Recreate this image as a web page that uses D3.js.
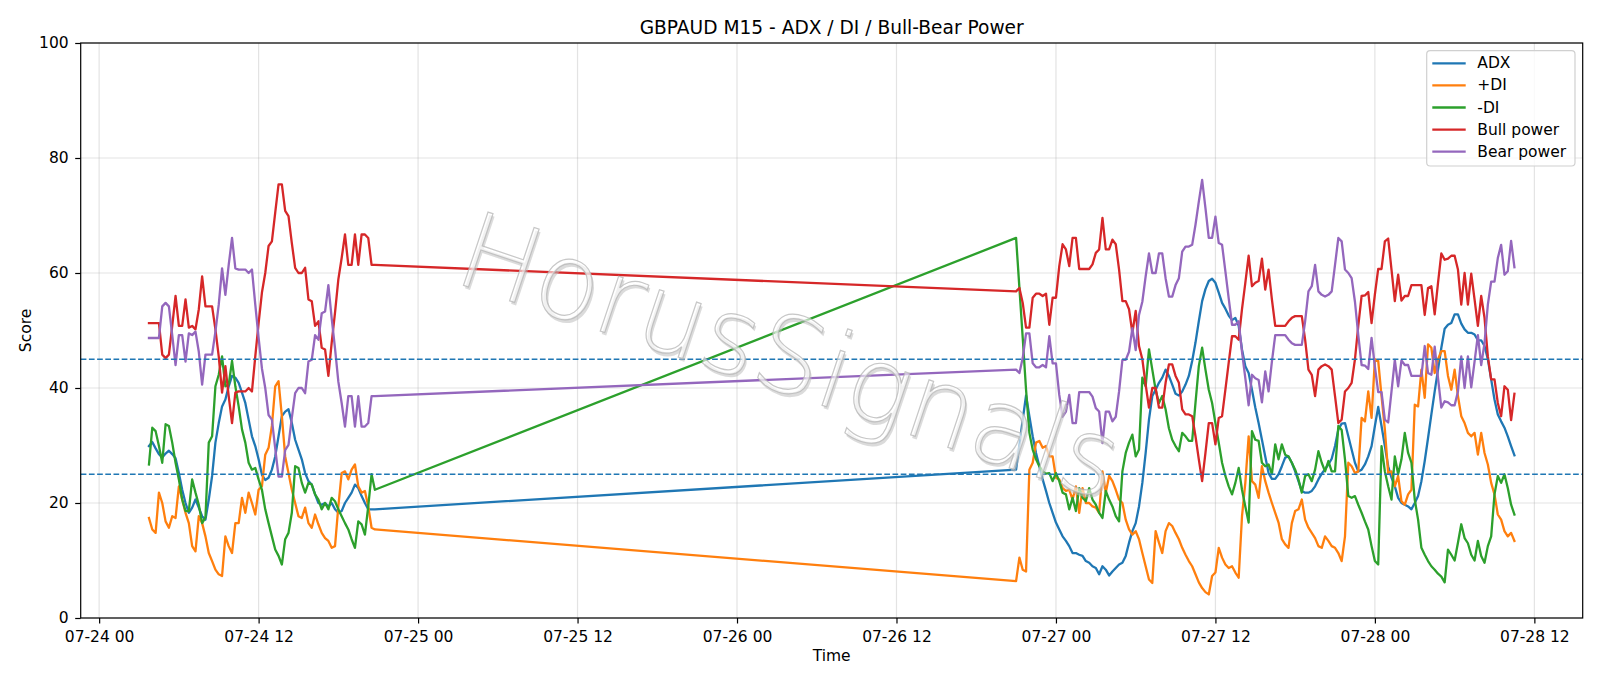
<!DOCTYPE html>
<html><head><meta charset="utf-8">
<script src="https://cdn.jsdelivr.net/npm/d3@7/dist/d3.min.js"></script>
<style>body{margin:0;background:#fff}svg{display:block;font-family:"DejaVu Sans",sans-serif}</style>
</head><body>
<svg id="chart" width="1600" height="686"></svg>
<script>
// ---------------- data ----------------
const titleText = "GBPAUD M15 - ADX / DI / Bull-Bear Power";
const watermarkText = "HorusSignals";
const sessions = [
  {start: "2020-07-24T03:45:00Z", bars: 69},
  {start: "2020-07-26T21:00:00Z", bars: 151}
];
const adx = [
 29.9,30.6,29.5,28.5,27.9,28.6,29.1,28.5,27.8,25.2,22.3,20.0,18.3,19.2,20.6,19.2,17.7,17.1,20.6,24.7,
 30.5,33.9,36.8,38.0,40.3,42.1,41.8,40.9,39.2,37.4,34.5,31.6,29.9,27.6,24.9,24.0,24.4,25.8,28.1,31.6,
 35.1,35.9,36.3,33.9,31.0,29.3,27.6,25.2,23.8,23.2,21.5,20.0,19.7,20.0,19.4,20.0,18.9,18.3,18.6,20.0,
 20.9,21.8,23.2,22.6,21.2,20.0,18.9,18.9,18.9,
 25.8,30.1,34.5,38.7,35.1,31.6,28.7,26.4,24.1,22.1,20.0,18.3,16.6,15.4,14.2,13.4,12.5,11.3,11.3,11.0,
 10.8,9.9,9.6,9.0,8.7,7.6,9.0,8.4,7.4,8.1,8.7,9.3,9.6,10.8,13.1,15.1,16.5,19.4,23.5,28.7,
 34.5,38.6,39.7,40.9,41.8,43.2,42.1,40.6,39.0,38.7,39.4,40.6,42.1,44.7,47.9,51.6,55.1,57.2,58.6,59.0,
 58.3,56.6,54.8,53.8,52.6,51.8,52.2,50.8,46.7,43.8,42.6,39.7,36.6,33.9,31.0,28.1,25.2,24.2,24.2,25.0,
 26.4,27.9,28.1,27.0,25.5,23.8,22.1,21.8,21.8,22.1,22.9,24.1,25.1,25.9,26.7,27.7,29.9,32.8,33.8,33.9,
 31.6,29.3,27.0,25.5,25.8,26.7,28.1,29.9,33.4,36.7,33.4,29.9,26.4,24.4,22.9,20.9,20.0,19.7,19.4,18.9,
 20.0,21.2,23.8,27.3,31.3,35.4,39.4,43.2,47.0,50.3,51.0,51.3,52.8,52.8,51.2,50.2,49.6,49.6,49.3,48.3,
 48.3,47.3,45.0,41.5,38.0,35.4,34.2,33.1,31.6,29.9,28.3
];
const plusDI = [
 17.4,15.4,14.8,21.8,20.0,16.8,15.7,17.7,17.4,22.9,20.6,18.3,16.5,12.5,11.6,17.7,16.5,14.2,11.3,9.9,
 8.4,7.6,7.3,14.2,12.5,11.3,16.5,16.5,20.9,18.3,21.8,20.0,18.0,22.3,22.9,28.4,29.6,33.4,40.3,41.2,
 35.1,28.1,25.2,22.3,20.0,17.7,17.4,19.2,16.5,15.7,18.0,16.3,14.8,13.9,13.4,12.2,12.5,19.4,25.2,25.5,
 24.1,25.8,26.7,22.9,21.8,22.1,19.4,15.7,15.4,
 6.4,10.5,8.4,8.1,25.8,27.0,30.5,30.8,29.6,29.9,28.1,28.1,24.4,24.1,22.6,22.1,22.3,20.6,22.9,18.3,
 22.6,20.0,20.0,19.4,19.2,18.3,25.5,21.8,24.7,23.8,22.3,20.6,20.0,17.1,15.4,14.5,15.1,13.7,11.3,9.0,
 6.7,6.1,15.1,13.1,11.3,15.1,16.5,16.0,14.8,13.7,12.2,11.0,9.9,9.0,7.6,6.2,5.2,4.5,4.1,7.3,
 7.9,12.2,10.5,9.3,8.7,9.0,7.9,7.0,17.7,23.5,31.6,23.8,23.2,20.9,26.4,23.8,21.8,20.0,18.3,16.6,
 13.7,12.8,12.2,16.5,18.6,18.9,20.6,17.1,15.7,14.8,13.9,12.5,12.2,14.2,13.4,12.5,12.2,11.3,9.9,14.2,
 27.0,26.4,25.2,25.5,34.8,34.2,39.4,34.8,45.0,44.7,38.6,32.8,25.2,25.5,22.9,24.7,20.3,19.7,21.5,22.3,
 37.1,36.8,43.2,38.3,47.6,47.0,42.6,45.0,46.4,46.4,42.1,39.7,43.2,38.6,35.1,33.9,32.2,31.6,32.2,28.4,
 32.2,28.7,26.7,23.5,21.5,18.0,17.1,15.1,14.2,14.8,13.4
];
const minusDI = [
 26.7,33.1,32.5,29.9,27.0,33.7,33.4,30.5,27.0,24.1,20.6,18.6,18.6,24.1,21.8,19.7,16.5,17.5,30.5,31.6,
 40.3,42.3,45.5,40.3,40.6,44.7,40.3,36.8,32.8,30.5,27.0,25.8,26.1,24.1,22.3,18.9,16.5,14.2,11.9,10.8,
 9.3,13.7,14.8,18.3,26.4,26.1,23.5,21.8,23.5,23.2,21.5,20.6,18.9,20.0,18.9,20.9,20.3,18.9,17.7,16.5,
 15.4,13.7,12.2,16.8,16.3,14.5,19.4,25.0,22.3,
 66.1,57.4,48.7,39.7,32.2,29.3,27.6,26.4,25.5,25.1,25.2,23.8,25.2,23.8,21.8,21.5,18.9,20.9,18.6,22.6,
 20.9,20.3,22.6,20.6,19.7,18.3,17.4,22.1,20.6,19.4,17.7,16.8,25.5,28.7,30.5,31.9,28.1,29.3,41.8,40.3,
 46.7,43.2,39.7,37.4,38.6,36.3,33.0,31.0,29.9,29.0,32.2,31.6,30.8,30.8,37.4,43.8,47.0,43.2,39.7,37.4,
 33.9,30.5,27.0,24.7,22.9,21.5,23.5,26.1,22.3,19.4,16.6,32.5,31.0,30.8,27.0,26.4,26.7,25.0,30.2,27.6,
 30.2,28.4,28.1,27.0,25.8,24.1,21.8,24.7,25.0,23.8,25.8,29.0,27.0,25.5,27.3,25.5,25.5,33.4,32.7,27.6,
 21.2,20.9,21.2,19.7,18.3,16.8,15.4,12.5,9.9,9.3,29.9,25.5,22.9,20.6,28.1,25.0,27.6,32.2,28.7,27.0,
 20.6,17.1,12.2,11.0,9.9,9.0,8.4,7.7,7.2,6.2,11.9,11.0,10.0,13.1,16.3,13.9,13.0,11.0,10.0,13.4,
 10.8,9.6,12.5,14.2,21.5,24.7,23.5,25.0,22.6,19.7,18.0
];
const bullPower = [
 51.3,51.3,51.3,51.3,45.8,45.2,45.8,50.8,56.0,50.8,50.8,55.4,50.5,50.8,50.2,53.7,59.4,54.2,54.2,54.2,
 50.2,45.5,39.2,43.8,38.6,33.9,39.2,39.4,39.4,39.4,40.0,39.4,45.5,51.3,56.6,60.0,64.7,65.5,70.5,75.4,
 75.4,70.8,69.9,65.2,60.9,60.0,60.0,60.9,55.4,55.1,50.8,51.6,47.0,46.7,42.1,47.9,53.1,58.9,62.6,66.7,
 61.4,61.4,66.7,61.4,66.7,66.7,66.1,61.4,61.4,
 56.8,57.4,54.8,50.5,50.5,55.7,56.4,56.4,56.0,56.4,51.0,55.7,55.7,61.2,65.0,64.1,61.2,66.1,66.1,60.7,
 60.7,60.7,60.7,61.5,63.5,64.1,69.6,64.1,64.1,65.8,65.0,60.6,55.1,55.1,53.7,49.6,53.4,47.3,45.0,40.6,
 36.6,40.0,40.0,36.6,36.6,40.9,44.1,44.1,42.1,40.9,36.3,35.4,35.4,35.1,31.6,27.6,23.8,28.7,33.9,33.9,
 30.2,34.8,35.1,39.7,44.4,49.0,49.0,48.4,53.7,58.3,63.0,57.7,58.3,58.6,62.5,57.1,60.6,55.4,50.8,50.8,
 50.8,50.8,51.6,52.2,52.5,52.5,52.5,48.4,43.2,42.3,38.6,43.2,43.8,44.1,43.8,43.2,38.6,33.9,34.5,39.4,
 40.0,40.9,45.0,50.8,56.0,56.1,56.7,51.3,56.3,60.7,60.7,65.5,66.0,60.6,55.1,59.7,55.2,56.0,56.0,57.9,
 57.9,57.9,57.9,52.7,57.4,57.7,52.8,58.3,63.4,62.3,62.5,63.0,63.0,60.6,54.5,60.0,54.5,59.9,55.4,50.8,
 56.0,52.2,45.5,41.5,41.5,37.4,35.1,40.3,39.7,34.4,39.0
];
const bearPower = [
 48.7,48.7,48.7,48.7,54.2,54.8,54.2,49.2,44.0,49.2,49.2,44.6,49.5,49.2,49.8,46.3,40.6,45.8,45.8,45.8,
 49.8,54.5,60.8,56.2,61.4,66.1,60.8,60.6,60.6,60.6,60.0,60.6,54.5,48.7,43.4,40.0,35.3,34.5,29.5,24.6,
 24.6,29.2,30.1,34.8,39.1,40.0,40.0,39.1,44.6,44.9,49.2,48.4,53.0,53.3,57.9,52.1,46.9,41.1,37.4,33.3,
 38.6,38.6,33.3,38.6,33.3,33.3,33.9,38.6,38.6,
 43.2,42.6,45.2,49.5,49.5,44.3,43.6,43.6,44.0,43.6,49.0,44.3,44.3,38.8,35.0,35.9,38.8,33.9,33.9,39.3,
 39.3,39.3,39.3,38.5,36.5,35.9,30.4,35.9,35.9,34.2,35.0,39.4,44.9,44.9,46.3,50.4,46.6,52.7,55.0,59.4,
 63.4,60.0,60.0,63.4,63.4,59.1,55.9,55.9,57.9,59.1,63.7,64.6,64.6,64.9,68.4,72.4,76.2,71.3,66.1,66.1,
 69.8,65.2,64.9,60.3,55.6,51.0,51.0,51.6,46.3,41.7,37.0,42.3,41.7,41.4,37.5,42.9,39.4,44.6,49.2,49.2,
 49.2,49.2,48.4,47.8,47.5,47.5,47.5,51.6,56.8,57.7,61.4,56.8,56.2,55.9,56.2,56.8,61.4,66.1,65.5,60.6,
 60.0,59.1,55.0,49.2,44.0,43.9,43.3,48.7,43.7,39.3,39.3,34.5,34.0,39.4,44.9,40.3,44.8,44.0,44.0,42.1,
 42.1,42.1,42.1,47.3,42.6,42.3,47.2,41.7,36.6,37.7,37.5,37.0,37.0,39.4,45.5,40.0,45.5,40.1,44.6,49.2,
 44.0,47.8,54.5,58.5,58.5,62.6,64.9,59.7,60.3,65.6,61.0
];
const seriesNames = ["ADX", "+DI", "-DI", "Bull power", "Bear power"];
const seriesColors = ["#1f77b4", "#ff7f0e", "#2ca02c", "#d62728", "#9467bd"];
const thresholds = [45, 25];
const yTicks = [0, 20, 40, 60, 80, 100];
const xTickLabels = ["07-24 00","07-24 12","07-25 00","07-25 12","07-26 00","07-26 12","07-27 00","07-27 12","07-28 00","07-28 12"];

// ---------------- layout ----------------
const L = 80.7, R = 1582.7, T = 43, B = 618;
const svg = d3.select("#chart");
const FS = 15.5;

// time axis
const times = [];
sessions.forEach(s => {
  const t0 = new Date(s.start).getTime();
  for (let i = 0; i < s.bars; i++) times.push(new Date(t0 + i * 15 * 60000));
});
const tFirst = times[0].getTime(), tLast = times[times.length - 1].getTime();
const pad = (tLast - tFirst) * 0.05;
const x = d3.scaleUtc().domain([new Date(tFirst - pad), new Date(tLast + pad)]).range([L, R]);
const y = d3.scaleLinear().domain([0, 100]).range([B, T]);
const parseTick = d3.utcParse("%Y-%m-%d %H");
const xTicks = xTickLabels.map(s => parseTick("2020-" + s));

// grid
const grid = svg.append("g");
grid.selectAll("line.gx").data(xTicks).join("line")
  .attr("x1", d => x(d)).attr("x2", d => x(d)).attr("y1", T).attr("y2", B)
  .attr("stroke", "#b0b0b0").attr("stroke-opacity", 0.35).attr("stroke-width", 1.2);
grid.selectAll("line.gy").data(yTicks).join("line")
  .attr("x1", L).attr("x2", R).attr("y1", d => y(d)).attr("y2", d => y(d))
  .attr("stroke", "#b0b0b0").attr("stroke-opacity", 0.35).attr("stroke-width", 1.2);

// series
const allSeries = [adx, plusDI, minusDI, bullPower, bearPower];
const line = d3.line().x((d, i) => x(times[i])).y(d => y(d));
const plot = svg.append("g");
allSeries.forEach((vals, si) => {
  plot.append("path").datum(vals).attr("d", line)
    .attr("fill", "none").attr("stroke", seriesColors[si]).attr("stroke-width", 2.3)
    .attr("stroke-linejoin", "round").attr("stroke-linecap", "square");
});

// thresholds
plot.selectAll("line.th").data(thresholds).join("line")
  .attr("x1", L).attr("x2", R).attr("y1", d => y(d)).attr("y2", d => y(d))
  .attr("stroke", "#1f77b4").attr("stroke-width", 1.55).attr("stroke-dasharray", "5.7,2.5");

// axes
const xAxis = d3.axisBottom(x).tickValues(xTicks).tickFormat((d, i) => xTickLabels[i]).tickSizeOuter(0).tickSize(5.5).tickPadding(5);
const yAxis = d3.axisLeft(y).tickValues(yTicks).tickSizeOuter(0).tickSize(5.5).tickPadding(5);
const gx = svg.append("g").attr("transform", `translate(0,${B})`).call(xAxis);
const gy = svg.append("g").attr("transform", `translate(${L},0)`).call(yAxis);
[gx, gy].forEach(g => {
  g.select(".domain").remove();
  g.selectAll("line").attr("stroke", "#000").attr("stroke-width", 1.2);
  g.selectAll("text").attr("font-size", FS).attr("fill", "#000").attr("font-family", "DejaVu Sans");
});
gx.selectAll("text").attr("dy", "0.75em").attr("y", 12);
gy.selectAll("text").attr("x", -12);

// frame
svg.append("rect").attr("x", L).attr("y", T).attr("width", R - L).attr("height", B - T)
  .attr("fill", "none").attr("stroke", "#000").attr("stroke-width", 1.2);

// title and labels
svg.append("text").attr("x", (L + R) / 2).attr("y", 33.5).attr("text-anchor", "middle")
  .attr("font-size", 18.6).text(titleText);
svg.append("text").attr("x", (L + R) / 2).attr("y", 656).attr("text-anchor", "middle")
  .attr("dominant-baseline", "central").attr("font-size", FS).text("Time");
svg.append("text").attr("transform", `translate(25.5,${(T + B) / 2}) rotate(-90)`)
  .attr("text-anchor", "middle").attr("dominant-baseline", "central").attr("font-size", FS).text("Score");

// legend
const lg = svg.append("g");
lg.append("rect").attr("x", 1426.7).attr("y", 50.7).attr("width", 148.3).attr("height", 115.3)
  .attr("rx", 3.5).attr("fill", "#fff").attr("fill-opacity", 0.8).attr("stroke", "#d0d0d0").attr("stroke-width", 1.2);
seriesNames.forEach((n, i) => {
  const yy = 63.3 + i * 22.1;
  lg.append("line").attr("x1", 1432.3).attr("x2", 1465.7).attr("y1", yy).attr("y2", yy)
    .attr("stroke", seriesColors[i]).attr("stroke-width", 2.3);
  lg.append("text").attr("x", 1477.3).attr("y", yy).attr("dominant-baseline", "central")
    .attr("font-size", FS).text(n);
});

// watermark
const wm = svg.append("g").attr("transform", "translate(790,356) rotate(18.5)");
wm.append("text").text(watermarkText).attr("x", 2.5).attr("y", 2.5)
  .attr("text-anchor", "middle").attr("dominant-baseline", "central")
  .attr("font-size", 106).attr("font-weight", 300)
  .attr("textLength", 690).attr("lengthAdjust", "spacingAndGlyphs")
  .attr("fill", "#bdbdbd").attr("fill-opacity", 0.55);
wm.append("text").text(watermarkText)
  .attr("text-anchor", "middle").attr("dominant-baseline", "central")
  .attr("font-size", 106).attr("font-weight", 300)
  .attr("textLength", 690).attr("lengthAdjust", "spacingAndGlyphs")
  .attr("fill", "#ffffff").attr("fill-opacity", 0.6).attr("stroke", "#b4b4b4").attr("stroke-width", 1.2).attr("stroke-opacity", 0.75);
</script>
</body></html>
